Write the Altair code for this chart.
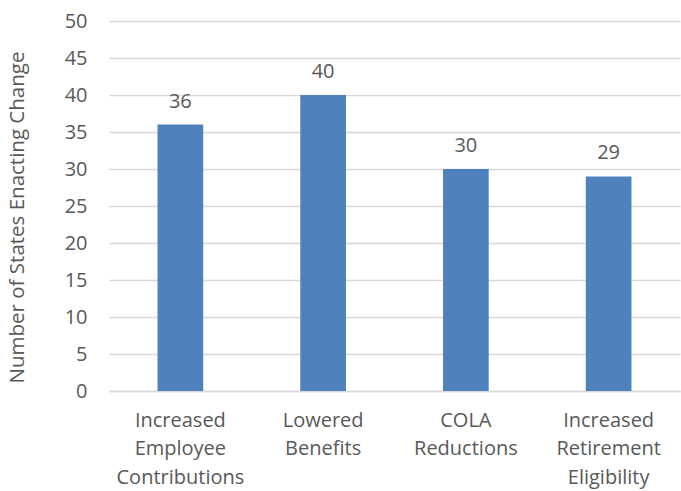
import altair as alt
import pandas as pd

categories = ["Increased|Employee|Contributions", "Lowered|Benefits", "COLA|Reductions", "Increased|Retirement|Eligibility"]
values = [36, 40, 30, 29]
y_ticks = [0, 5, 10, 15, 20, 25, 30, 35, 40, 45, 50]

df = pd.DataFrame({"category": categories, "value": values})

FONT = "Open Sans"
GRAY = "#595959"

x = alt.X("category:N", sort=categories, title=None,
          scale=alt.Scale(paddingInner=0.68, paddingOuter=0.34),
          axis=alt.Axis(labelExpr="split(datum.label, '|')", labelAngle=0,
                        labelFont=FONT, labelFontSize=20, labelColor=GRAY,
                        labelLineHeight=28.5, labelPadding=19, ticks=False,
                        domainColor="#d9d9d9", domainWidth=1.5, grid=False))

y = alt.Y("value:Q", title="Number of States Enacting Change",
          scale=alt.Scale(domain=[0, 50], nice=False),
          axis=alt.Axis(values=y_ticks, tickCount=11, labelOverlap=False,
                        labelFont=FONT, labelFontSize=20, labelColor=GRAY,
                        labelPadding=22, ticks=False, domain=False,
                        gridColor="#d9d9d9", gridWidth=1.5,
                        titleFont=FONT, titleFontSize=20.5, titleColor=GRAY,
                        titleFontWeight="normal", titleX=-92, titleY=196,
                        titleBaseline="middle"))

bars = alt.Chart(df).mark_bar(color="#4F81BD").encode(x=x, y=y)
text = alt.Chart(df).mark_text(baseline="bottom", dy=-13, font=FONT, fontSize=20, color=GRAY).encode(
    x=alt.X("category:N", sort=categories), y=alt.Y("value:Q"), text="value:Q")

chart = (bars + text).properties(
    width=571, height=370,
    autosize=alt.AutoSizeParams(type="none"),
    padding={"left": 109, "top": 21, "right": 1, "bottom": 100},
).configure(background="white").configure_view(stroke=None)

chart.save("out.html", embed_options={"renderer": "svg", "actions": False})
